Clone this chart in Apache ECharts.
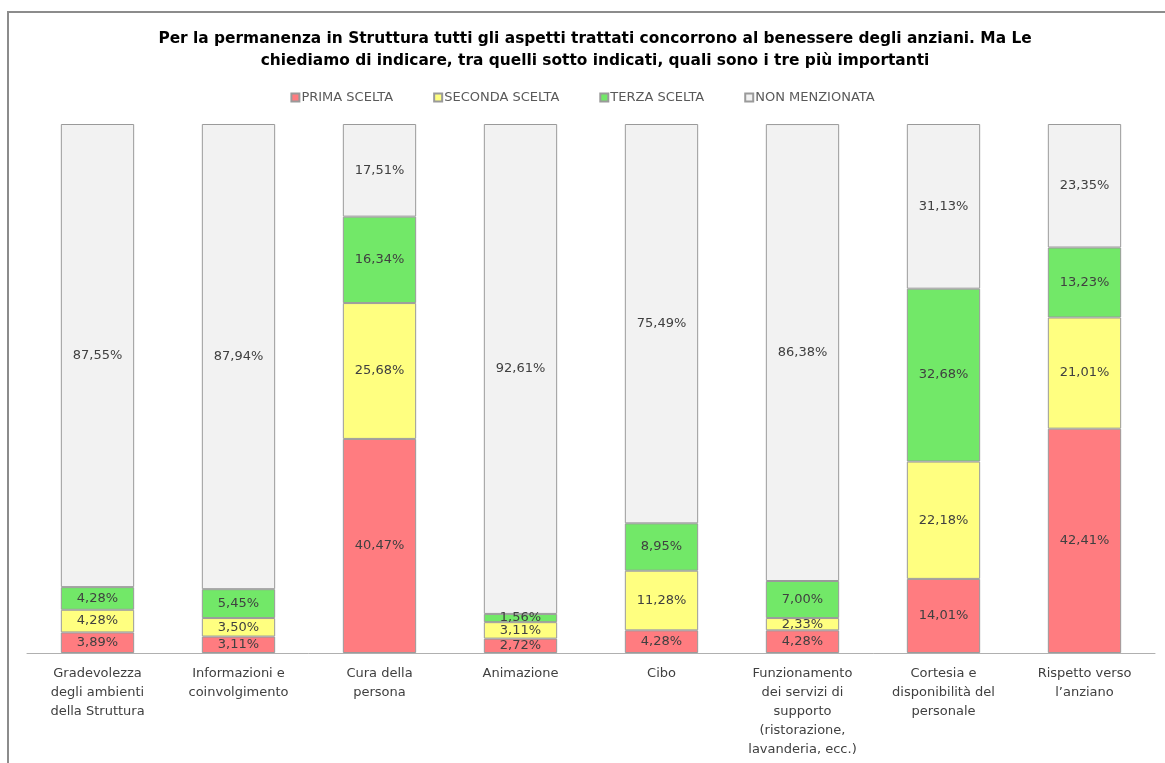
<!DOCTYPE html>
<html>
<head>
<meta charset="utf-8">
<style>
  html, body { margin: 0; padding: 0; background: #fff; }
  #chart { width: 1165px; height: 763px; }
</style>
<script src="https://cdn.jsdelivr.net/npm/echarts@6/dist/echarts.min.js"></script>
</head>
<body>
<div id="chart"></div>
<script>
// Aspects asked about and the share of first / second / third choice
const categories = [
  'Gradevolezza\ndegli ambienti\ndella Struttura',
  'Informazioni e\ncoinvolgimento',
  'Cura della\npersona',
  'Animazione',
  'Cibo',
  'Funzionamento\ndei servizi di\nsupporto\n(ristorazione,\nlavanderia, ecc.)',
  'Cortesia e\ndisponibilità del\npersonale',
  'Rispetto verso\nl’anziano'
];
const seriesNames = ['PRIMA SCELTA', 'SECONDA SCELTA', 'TERZA SCELTA', 'NON MENZIONATA'];
const primaScelta = [3.89, 3.11, 40.47, 2.72, 4.28, 4.28, 14.01, 42.41];
const secondaScelta = [4.28, 3.50, 25.68, 3.11, 11.28, 2.33, 22.18, 21.01];
const terzaScelta = [4.28, 5.45, 16.34, 1.56, 8.95, 7.00, 32.68, 13.23];
const nonMenzionata = [87.55, 87.94, 17.51, 92.61, 75.49, 86.38, 31.13, 23.35];

const colors = ['#ff7c80', '#ffff80', '#72e868', '#f2f2f2'];
const values = [primaScelta, secondaScelta, terzaScelta, nonMenzionata];
const fontFamily = '"Century Gothic", "DejaVu Sans", sans-serif';

const chart = echarts.init(document.getElementById('chart'));
chart.setOption({
  backgroundColor: '#fff',
  animation: false,
  title: {
    text: 'Per la permanenza in Struttura tutti gli aspetti trattati concorrono al benessere degli anziani. Ma Le\nchiediamo di indicare, tra quelli sotto indicati, quali sono i tre più importanti',
    left: 590,
    textAlign: 'center',
    top: 23,
    textStyle: {
      fontFamily: fontFamily,
      fontWeight: 'bold',
      fontSize: 15.4,
      lineHeight: 22,
      color: '#000'
    }
  },
  legend: {
    top: 86,
    left: 'center',
    itemWidth: 8,
    itemHeight: 8,
    itemGap: 40,
    icon: 'rect',
    textStyle: { fontFamily: fontFamily, fontSize: 13, color: '#595959', padding: [0, 0, 0, -3] },
    data: seriesNames
  },
  grid: { left: 27, right: 10, top: 124, bottom: 110, containLabel: false },
  xAxis: {
    type: 'category',
    data: categories,
    axisLine: { lineStyle: { color: '#b0b0b0', width: 1 } },
    axisTick: { show: false },
    axisLabel: {
      interval: 0,
      margin: 11,
      fontFamily: fontFamily,
      fontSize: 13,
      lineHeight: 19,
      color: '#404040'
    }
  },
  yAxis: { type: 'value', min: 0, max: 100, show: false, splitLine: { show: false } },
  graphic: [{
    type: 'polyline',
    shape: { points: [[8, 763], [8, 12], [1165, 12]] },
    style: { stroke: '#8c8c8c', lineWidth: 2, fill: null }
  }],
  series: seriesNames.map((name, i) => ({
    name: name,
    type: 'bar',
    stack: 'total',
    barWidth: '52%',
    data: values[i],
    itemStyle: { color: colors[i], borderColor: '#9a9a9a', borderWidth: 1 },
    label: {
      show: true,
      position: 'inside',
      fontFamily: fontFamily,
      fontSize: 13,
      color: '#404040',
      formatter: p => p.value.toFixed(2).replace('.', ',') + '%'
    }
  }))
});
</script>
</body>
</html>
